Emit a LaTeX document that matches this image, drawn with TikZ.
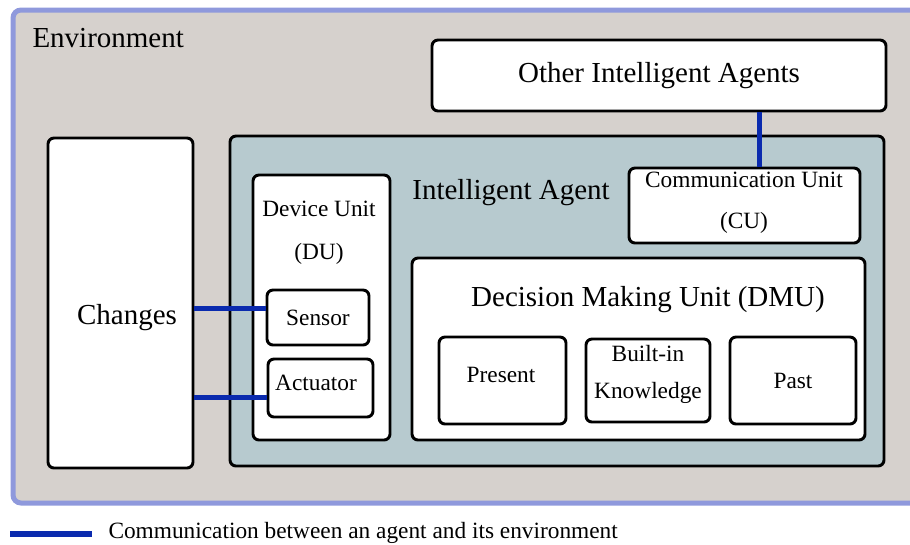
\documentclass[tikz,border=0pt]{standalone}
\usepackage{fontspec}
\setmainfont{LiberationSerif}[Extension=.ttf, UprightFont=*-Regular, BoldFont=*-Bold]
\usetikzlibrary{calc}

\definecolor{envfill}{HTML}{D6D1CD}
\definecolor{envline}{HTML}{8F99DC}
\definecolor{agentfill}{HTML}{B7CACF}
\definecolor{linkblue}{HTML}{0A2AAE}

\newcommand{\bigtxt}{\fontsize{21.75}{26}\selectfont}
\newcommand{\smalltxt}{\fontsize{17.5}{21}\selectfont}

\tikzset{every picture/.style={line width=0.75pt}}
\tikzset{
	box/.style={draw, line width=2.2pt, rounded corners=4.5pt, fill=white, inner sep=0pt, align=center, font=\smalltxt},
	link/.style={draw=linkblue, line width=3.75pt},
	txt/.style={inner sep=0.75pt, align=center, font=\smalltxt}
}

\begin{document}
\begin{tikzpicture}[x=0.75pt,y=0.75pt,yscale=-1,xscale=1]
	\clip (0,0) rectangle (910,544);
	
	%Rounded Rect [environment]
	\draw [draw=envline, fill=envfill, line width=3.75pt, rounded corners=6pt] (13,10) rectangle (930,503);
	% Text Node
	\node [txt, anchor=west, font=\bigtxt] (envtext) at (31,38) {Environment};
	
	%Rounded Rect [other agents]
	\node [box, minimum width=340.5pt, minimum height=53.25pt, font=\bigtxt] (other) at (659,75.5) {Other Intelligent Agents};
	
	%Rounded Rect [changes]
	\node [box, minimum width=108.75pt, minimum height=247.5pt] (changes) at (120.5,303) {};
	% Text Node
	\node [txt, font=\bigtxt] (changestext) at (127,318) {Changes};
	
	%Rounded Rect [intelligent agent]
	\node [box, fill=agentfill, minimum width=490.5pt, minimum height=247.5pt] (agent) at (557,301) {};
	% Text Node
	\node [txt, font=\bigtxt] (agenttext) at (511,193) {Intelligent Agent};
	
	%Rounded Rect [device unit]
	\node [box, minimum width=102.75pt, minimum height=198.75pt] (device) at (321.5,307.5) {};
	% Text Node
	\node [txt] (devicetext) at (319,233) {Device Unit\\[11.25pt](DU)};
	\node [box, minimum width=76.5pt, minimum height=41.25pt] (sensor) at (318,317.5) {Sensor};
	\node [box, minimum width=78.75pt, minimum height=43.5pt] (actuator) at (320.5,388) {};
	% Text Node
	\node [txt] (actuatortext) at (316,383) {Actuator};
	
	%Rounded Rect [communication unit]
	\node [box, minimum width=173.25pt, minimum height=56.25pt] (cu) at (744.5,205.5) {};
	% Text Node
	\node [txt] (cutext) at (744,202.5) {Communication Unit\\[9.75pt](CU)};
	
	%Rounded Rect [decision making unit]
	\node [box, minimum width=339.75pt, minimum height=136.5pt] (dmu) at (638.5,349) {};
	% Text Node
	\node [txt, font=\bigtxt] (dmutext) at (648,300) {Decision Making Unit (DMU)};
	\node [box, minimum width=95.25pt, minimum height=65.25pt] (present) at (502.5,380.5) {};
	% Text Node
	\node [txt] (presenttext) at (501,375) {Present};
	\node [box, minimum width=93pt, minimum height=62.25pt] (builtin) at (648,380.5) {};
	% Text Node
	\node [txt] (builtintext) at (648,374.5) {Built-in\\[6.75pt]Knowledge};
	\node [box, minimum width=94.5pt, minimum height=65.25pt] (past) at (793,380.5) {Past};
	
	%Straight Lines [links]
	\draw [link] (sensor.170) -- (sensor.170 -| changes.east);
	\draw [link] (actuator.190) -- (actuator.190 -| changes.east);
	\coordinate (cutop) at ($(cu.north)+(15,0)$);
	\draw [link] (cutop) -- (cutop |- other.south);
	
	%Straight Lines [legend]
	\coordinate (legstart) at (10,534);
	\coordinate (legstop) at (92,534);
	\draw [link, line width=4.5pt] (legstart) -- (legstop);
	% Text Node
	\node [txt, anchor=west] (legtext) at (107,533) {Communication between an agent and its environment};
\end{tikzpicture}
\end{document}
